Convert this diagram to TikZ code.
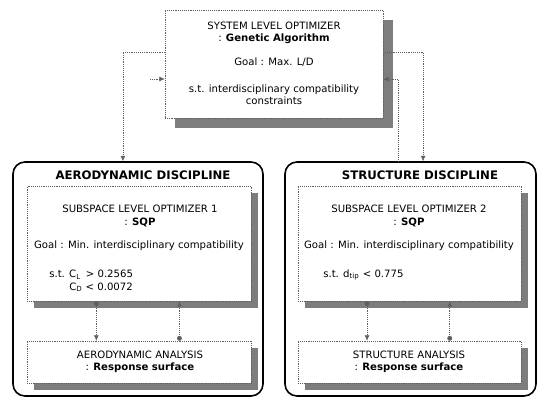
\documentclass[tikz,border=0pt]{standalone}
\usepackage{fontspec}
\setmainfont{DejaVu Sans}
\usetikzlibrary{arrows.meta,calc,fit,shadows,positioning}
\definecolor{GrisLinea}{RGB}{95,95,95}
\definecolor{GrisSombra}{RGB}{125,125,125}

\tikzset{
  optbox/.style={draw=GrisLinea, densely dotted, fill=white, inner sep=0pt,
    drop shadow={shadow xshift=#1, shadow yshift=-#1, fill=GrisSombra, opacity=1}},
  optbox/.default=5.5pt,
  discbox/.style={draw=black, line width=1.2pt, rounded corners=9pt, inner sep=0pt},
  txt/.style={font=\fontsize{7.6}{9.3}\selectfont, align=center, inner sep=0pt},
  disctitle/.style={font=\fontsize{8.8}{10}\selectfont\bfseries, inner sep=0pt},
  link/.style={draw=GrisLinea, densely dotted, thin},
  tipdown/.style={-{Latex[length=4pt,width=3.6pt]}},
  dotlink/.style={{Circle[length=3.6pt]}-{Latex[length=4pt,width=3.6pt]}}
}

\begin{document}
\begin{tikzpicture}[x=0.75pt,y=-0.75pt]
  \useasboundingbox (0,0) rectangle (537,398);
  % system level
  \node[optbox=7.5pt, fit={(165,10) (383,118)}] (sys) {};
  \node[txt] (systitle) at (274,33) {SYSTEM LEVEL OPTIMIZER\\: \textbf{Genetic Algorithm}};
  \node[txt] (sysgoal) at (274,62) {Goal : Max. L/D};
  \node[txt] (syscons) at (274,95) {s.t. interdisciplinary compatibility\\constraints};

  % disciplines
  \node[discbox, fit={(13,162) (263,396)}] (aero) {};
  \node[discbox, fit={(285,162) (536,396)}] (stru) {};
  \node[disctitle] (aerotitle) at (143,175) {AERODYNAMIC DISCIPLINE};
  \node[disctitle] (strutitle) at (420,175) {STRUCTURE DISCIPLINE};

  % subspace optimizers and analyses
  \node[optbox, fit={(27,186) (251,301)}] (aerosub) {};
  \node[optbox, fit={(298,186) (521,301)}] (strusub) {};
  \node[optbox, fit={(27,341) (251,383)}] (aeroana) {};
  \node[optbox, fit={(298,341) (521,383)}] (struana) {};

  \node[txt] (aerosubtitle) at (140,216) {SUBSPACE LEVEL OPTIMIZER 1\\: \textbf{SQP}};
  \node[txt] (aerogoal) at (139,246) {Goal : Min. interdisciplinary compatibility};
  \node[txt, align=left, anchor=west] (aerocons) at (49,281)
    {s.t. C\textsubscript{L} \,> 0.2565\\\phantom{s.t. }C\textsubscript{D} < 0.0072};
  \node[txt] (aeroanatext) at (140,362) {AERODYNAMIC ANALYSIS\\: \textbf{Response surface}};

  \node[txt] (strusubtitle) at (409,216) {SUBSPACE LEVEL OPTIMIZER 2\\: \textbf{SQP}};
  \node[txt] (strugoal) at (409,246) {Goal : Min. interdisciplinary compatibility};
  \node[txt, anchor=west] (strucons) at (323,275) {s.t. d\textsubscript{tip} < 0.775};
  \node[txt] (struanatext) at (409,362) {STRUCTURE ANALYSIS\\: \textbf{Response surface}};

  % system <-> disciplines
  \draw[link,tipdown] ($(sys.north west)!0.39!(sys.south west)$) -| ($(aero.north west)!0.44!(aero.north east)$);
  \coordinate (aerofeed) at (150,79);
  \draw[link,tipdown] (aerofeed) -- (aerofeed -| sys.west);
  \draw[link,tipdown] ($(sys.north east)!0.39!(sys.south east)$) -| ($(stru.north west)!0.55!(stru.north east)$);
  \draw[link,tipdown] ($(stru.north west)!0.45!(stru.north east)$) |- ($(sys.north east)!0.64!(sys.south east)$);

  % optimizer <-> analysis
  \foreach \disc in {aero,stru} {
    \draw[link,dotlink] ($(\disc sub.south west)!0.31!(\disc sub.south east)$) -- ($(\disc ana.north west)!0.31!(\disc ana.north east)$);
    \draw[link,dotlink] ($(\disc ana.north west)!0.68!(\disc ana.north east)$) -- ($(\disc sub.south west)!0.68!(\disc sub.south east)$);
  }
\end{tikzpicture}
\end{document}
